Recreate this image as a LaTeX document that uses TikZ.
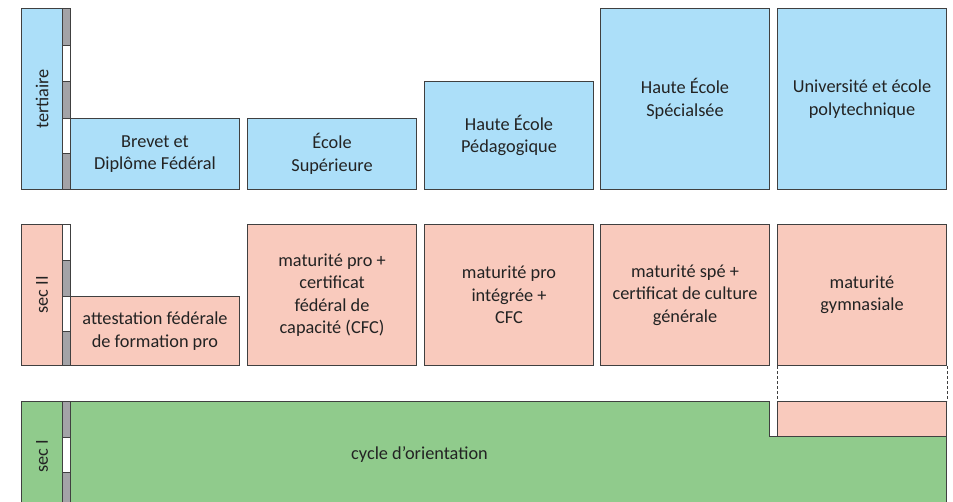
\documentclass[tikz,border=0pt]{standalone}
\usepackage{fontspec}
\setmainfont{Carlito}
\usetikzlibrary{positioning}
\definecolor{terblue}{RGB}{172,223,249}
\definecolor{secpink}{RGB}{249,202,189}
\definecolor{secgreen}{RGB}{144,203,140}
\definecolor{stripgray}{RGB}{163,163,167}
\definecolor{edgegray}{RGB}{64,64,64}
\definecolor{txtgray}{RGB}{35,35,35}

\tikzset{
  lvlbox/.style={draw=edgegray, line width=1pt, inner sep=2pt, align=center,
                 anchor=north west, text=txtgray,
                 font=\fontsize{18.3}{22.5}\selectfont},
  stripcell/.style={draw=edgegray, line width=0.8pt},
}

\begin{document}
\begin{tikzpicture}[x=1pt, y=-1pt]
  \useasboundingbox (0,0) rectangle (953,501);
  \clip (0,0) rectangle (953,501);

  % level labels
  \node[lvlbox, fill=terblue, minimum width=41pt, minimum height=181pt] (tert) at (21,8) {\rotatebox{90}{tertiaire}};
  \node[lvlbox, fill=secpink, minimum width=41pt, minimum height=141pt] (secii) at (21,224) {\rotatebox{90}{sec II}};
  \node[lvlbox, fill=secgreen, minimum width=41pt, minimum height=109pt] (seci) at (21,401) {\rotatebox{90}{sec I}};

  % year strips
  \foreach \ya/\yb/\c in {8/45/stripgray, 45/81/white, 81/118/stripgray, 118/153/white, 153/189/stripgray,
                          224/260/white, 260/296/stripgray, 296/331/white, 331/365/stripgray,
                          401/437/stripgray, 437/472/white, 472/510/stripgray}{
    \draw[stripcell, fill=\c] (62,\ya) rectangle (70,\yb);
  }

  % tertiaire
  \node[lvlbox, fill=terblue, minimum width=169pt, minimum height=71pt] (brevet) at (70,118) {Brevet et\\Diplôme Fédéral};
  \node[lvlbox, fill=terblue, minimum width=169pt, minimum height=71pt] (es) at (247,118) {École\\Supérieure};
  \node[lvlbox, fill=terblue, minimum width=169pt, minimum height=108pt] (hep) at (424,81) {Haute École\\Pédagogique};
  \node[lvlbox, fill=terblue, minimum width=169pt, minimum height=181pt] (hes) at (600,8) {Haute École\\Spécialsée};
  \node[lvlbox, fill=terblue, minimum width=169pt, minimum height=181pt] (uni) at (777,8) {Université et école\\polytechnique};

  % sec II
  \node[lvlbox, fill=secpink, minimum width=169pt, minimum height=69pt] (afp) at (70,296) {attestation fédérale\\de formation pro};
  \node[lvlbox, fill=secpink, minimum width=169pt, minimum height=141pt] (cfc) at (247,224) {maturité pro +\\certificat\\fédéral de\\capacité (CFC)};
  \node[lvlbox, fill=secpink, minimum width=169pt, minimum height=141pt] (mpi) at (424,224) {maturité pro\\intégrée +\\CFC};
  \node[lvlbox, fill=secpink, minimum width=169pt, minimum height=141pt] (mspe) at (600,224) {maturité spé +\\certificat de culture\\générale};
  \node[lvlbox, fill=secpink, minimum width=169pt, minimum height=141pt] (gym) at (777,224) {maturité\\gymnasiale};

  % sec I
  \draw[draw=edgegray, line width=1pt, fill=secgreen]
    (70,401) -- (769,401) -- (769,436) -- (946,436) -- (946,510) -- (70,510) -- cycle;
  \node[lvlbox, draw=none, anchor=center] (cycle) at (419.5,455) {cycle d’orientation};
  \node[lvlbox, fill=secpink, minimum width=169pt, minimum height=35pt] (gymbis) at (777,401) {};
  \draw[edgegray, line width=1pt, densely dashed] (gym.south west) -- (gymbis.north west);
  \draw[edgegray, line width=1pt, densely dashed] (gym.south east) -- (gymbis.north east);
\end{tikzpicture}
\end{document}
